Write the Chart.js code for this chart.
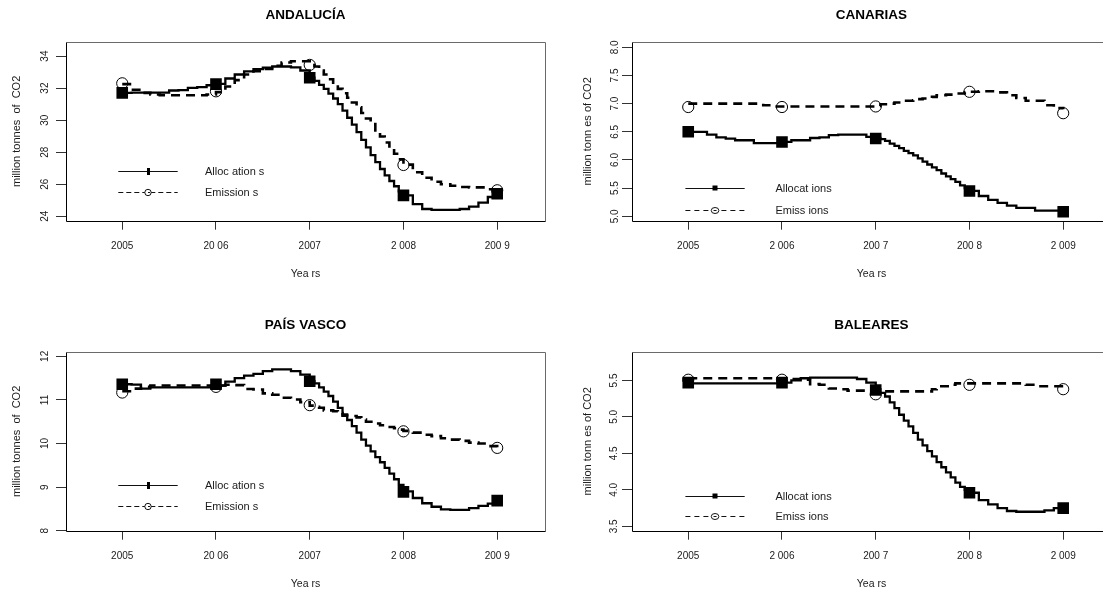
<!DOCTYPE html>
<html><head><meta charset="utf-8">
<script src="https://cdn.jsdelivr.net/npm/chart.js@4/dist/chart.umd.min.js"></script>
<style>
html,body{margin:0;padding:0;background:#fff;overflow:hidden;width:1103px;height:594px;position:relative}
canvas{position:absolute;display:block}
</style></head><body>
<canvas id="c0" width="567" height="284" style="left:0;top:0"></canvas>
<canvas id="c1" width="567" height="284" style="left:566px;top:0"></canvas>
<canvas id="c2" width="567" height="284" style="left:0;top:310px"></canvas>
<canvas id="c3" width="567" height="284" style="left:566px;top:310px"></canvas>
<script>
// ---------- data ----------
const years = [2005, 2006, 2007, 2008, 2009];
const curveYears = [
  2005.0,2005.1,2005.2,2005.3,2005.4,2005.5,2005.6,2005.7,2005.8,2005.9,
  2006.0,2006.1,2006.2,2006.3,2006.4,2006.5,2006.6,2006.7,2006.8,2006.9,
  2007.0,2007.05,2007.1,2007.15,2007.2,2007.25,2007.3,2007.35,2007.4,2007.45,2007.5,
  2007.55,2007.6,2007.65,2007.7,2007.75,2007.8,2007.85,2007.9,2007.95,2008.0,
  2008.1,2008.2,2008.3,2008.4,2008.5,2008.6,2008.7,2008.8,2008.9,2009.0
];
const xLabelsA = ["2005", "20 06", "2007", "2 008", "200 9"];
const xLabelsB = ["2005", "2 006", "200 7", "200 8", "2 009"];

// ANDALUCIA
const andAllocCurve = [31.70,31.72,31.72,31.72,31.72,31.85,31.88,32.02,32.06,32.18,
  32.27,32.60,32.85,33.05,33.18,33.28,33.35,33.35,33.30,33.10,
  32.65,32.45,32.20,31.95,31.65,31.35,31.00,30.60,30.15,29.72,29.25,
  28.77,28.30,27.82,27.38,26.95,26.55,26.20,25.87,25.55,25.30,
  24.75,24.45,24.40,24.40,24.40,24.45,24.60,24.85,25.20,25.40];
const andEmisCurve = [32.25,31.90,31.70,31.60,31.55,31.55,31.55,31.55,31.55,31.60,
  31.75,32.10,32.50,32.85,33.05,33.20,33.40,33.60,33.68,33.68,
  33.55,33.35,33.10,32.85,32.55,32.25,31.95,31.68,31.40,31.10,30.80,
  30.45,30.10,29.75,29.35,28.98,28.60,28.25,27.90,27.55,27.22,
  26.75,26.40,26.15,26.00,25.90,25.82,25.80,25.80,25.68,25.62];
const andAllocPts = [31.70, 32.25, 32.65, 25.30, 25.40];
const andEmisPts = [32.30, 31.80, 33.45, 27.20, 25.62];
const andYTicks = [24, 26, 28, 30, 32, 34];

// CANARIAS
const canAllocCurve = [6.50,6.50,6.45,6.40,6.38,6.35,6.35,6.30,6.30,6.30,
  6.32,6.35,6.35,6.39,6.40,6.44,6.45,6.45,6.45,6.41,
  6.39,6.37,6.34,6.29,6.25,6.21,6.16,6.12,6.08,6.03,5.97,
  5.92,5.87,5.82,5.76,5.71,5.66,5.61,5.55,5.50,5.45,
  5.36,5.29,5.24,5.19,5.15,5.15,5.10,5.10,5.10,5.09];
const canEmisCurve = [7.00,7.00,7.00,7.00,7.00,7.00,7.00,7.00,6.97,6.95,
  6.95,6.95,6.95,6.95,6.95,6.95,6.95,6.95,6.95,6.95,
  6.96,6.99,6.99,7.00,7.02,7.05,7.05,7.05,7.06,7.08,7.09,
  7.10,7.12,7.15,7.15,7.16,7.16,7.18,7.18,7.20,7.21,
  7.22,7.22,7.20,7.15,7.10,7.05,7.05,6.97,6.92,6.90];
const canAllocPts = [6.50, 6.32, 6.38, 5.45, 5.08];
const canEmisPts = [6.94, 6.94, 6.95, 7.21, 6.83];
const canYTicks = [5.0, 5.5, 6.0, 6.5, 7.0, 7.5, 8.0];

// PAIS VASCO
const pvAllocCurve = [11.36,11.35,11.26,11.29,11.29,11.29,11.29,11.29,11.29,11.29,
  11.33,11.42,11.50,11.56,11.60,11.66,11.70,11.70,11.66,11.58,
  11.43,11.38,11.29,11.19,11.09,10.96,10.82,10.67,10.54,10.40,10.25,
  10.09,9.95,9.82,9.69,9.57,9.44,9.31,9.18,9.05,8.90,
  8.75,8.63,8.55,8.49,8.48,8.48,8.52,8.57,8.62,8.67];
const pvEmisCurve = [11.20,11.26,11.30,11.33,11.33,11.33,11.33,11.33,11.33,11.33,
  11.33,11.35,11.34,11.25,11.24,11.15,11.12,11.05,11.01,10.95,
  10.87,10.84,10.82,10.76,10.76,10.74,10.70,10.64,10.63,10.63,10.60,
  10.55,10.50,10.50,10.46,10.42,10.38,10.38,10.35,10.32,10.29,
  10.25,10.20,10.17,10.12,10.09,10.06,10.02,10.00,9.94,9.90];
const pvAllocPts = [11.36, 11.36, 11.43, 8.89, 8.69];
const pvEmisPts = [11.17, 11.30, 10.88, 10.28, 9.90];
const pvYTicks = [8, 9, 10, 11, 12];

// BALEARES
const balAllocCurve = [5.46,5.46,5.46,5.46,5.46,5.46,5.46,5.46,5.46,5.46,
  5.47,5.50,5.53,5.54,5.54,5.54,5.54,5.54,5.52,5.47,
  5.38,5.33,5.28,5.20,5.12,5.03,4.95,4.87,4.78,4.69,4.61,
  4.53,4.46,4.38,4.31,4.24,4.17,4.10,4.04,4.00,3.96,
  3.86,3.80,3.75,3.71,3.70,3.70,3.70,3.72,3.75,3.75];
const balEmisCurve = [5.53,5.53,5.53,5.53,5.53,5.53,5.53,5.53,5.53,5.53,
  5.53,5.52,5.51,5.45,5.44,5.39,5.38,5.36,5.36,5.35,
  5.35,5.35,5.35,5.35,5.35,5.35,5.35,5.35,5.35,5.35,5.35,
  5.35,5.38,5.40,5.42,5.42,5.44,5.46,5.46,5.46,5.46,
  5.46,5.46,5.46,5.46,5.46,5.44,5.42,5.42,5.42,5.42];
const balAllocPts = [5.47, 5.47, 5.37, 3.96, 3.75];
const balEmisPts = [5.51, 5.51, 5.31, 5.44, 5.38];
const balYTicks = [3.5, 4.0, 4.5, 5.0, 5.5];

// ---------- drawing ----------
const FONT = '"Liberation Sans", Arial, Helvetica, sans-serif';
Chart.defaults.font.family = FONT;
Chart.defaults.color = '#1a1a1a';

const boxPlugin = {
  id: 'rbox',
  afterDraw(chart) {
    const {ctx, chartArea: a} = chart;
    const l = Math.round(a.left) + 0.5, r = Math.round(a.right) + 0.5;
    const t = Math.round(a.top) + 0.5, b = Math.round(a.bottom) + 0.5;
    ctx.save();
    ctx.lineWidth = 1;
    ctx.strokeStyle = '#6a6a6a';
    ctx.beginPath(); ctx.moveTo(l, t); ctx.lineTo(r, t); ctx.lineTo(r, b); ctx.stroke();
    ctx.strokeStyle = '#000';
    ctx.beginPath(); ctx.moveTo(l, t); ctx.lineTo(l, b); ctx.lineTo(r, b); ctx.stroke();
    ctx.restore();
  }
};

const rLegend = {
  id: 'rLegend',
  afterDatasetsDraw(chart, args, o) {
    if (!o || !o.items) return;
    const {ctx, chartArea: a} = chart;
    const x0 = a.left + o.x0, x1 = a.left + o.x1, xm = (x0 + x1) / 2;
    ctx.save();
    o.items.forEach((it, i) => {
      const y = Math.round(a.top + o.rows[i]) + 0.5;
      ctx.strokeStyle = '#111'; ctx.lineWidth = 1;
      ctx.setLineDash(it.dash || []);
      ctx.beginPath(); ctx.moveTo(x0, y); ctx.lineTo(x1, y); ctx.stroke();
      ctx.setLineDash([]);
      ctx.fillStyle = '#000';
      if (it.marker === 'bar') {
        ctx.fillRect(Math.round(xm) - 1, y - 3.5, 3, 7);
      } else if (it.marker === 'square') {
        ctx.fillRect(Math.round(xm) - 2.5, y - 3, 5, 5);
      } else if (it.marker === 'circle') {
        ctx.fillStyle = '#fff';
        ctx.beginPath(); ctx.arc(xm, y, 3.2, 0, Math.PI * 2); ctx.fill(); ctx.stroke();
        ctx.beginPath(); ctx.moveTo(xm, y); ctx.lineTo(xm + 2, y); ctx.stroke();
      } else if (it.marker === 'ellipse') {
        ctx.fillStyle = '#fff';
        ctx.beginPath(); ctx.ellipse(xm, y, 3.8, 3, 0, 0, Math.PI * 2); ctx.fill(); ctx.stroke();
        ctx.beginPath(); ctx.moveTo(xm - 1.5, y); ctx.lineTo(xm + 1.5, y); ctx.stroke();
      }
      ctx.fillStyle = '#1a1a1a';
      ctx.font = '11px ' + FONT;
      ctx.textBaseline = 'middle';
      ctx.textAlign = 'left';
      ctx.fillText(it.text, a.left + o.tx, y);
    });
    ctx.restore();
  }
};

function pts(xs, ys) { return xs.map((x, i) => ({x: x, y: ys[i]})); }

function makeChart(id, c) {
  new Chart(document.getElementById(id), {
    type: 'line',
    data: {
      datasets: [
        {label: 'Allocations', data: pts(curveYears, c.allocCurve), borderColor: '#000', borderWidth: 2.3,
          pointRadius: 0, stepped: true, fill: false, borderJoinStyle: 'miter'},
        {label: 'Emissions', data: pts(curveYears, c.emisCurve), borderColor: '#000', borderWidth: 2.6,
          borderDash: [9, 6], pointRadius: 0, stepped: true, fill: false, borderJoinStyle: 'miter'},
        {label: 'Allocations pts', data: pts(years, c.allocPts), showLine: false, pointStyle: 'rect',
          pointRadius: 8.2, pointBackgroundColor: '#000', pointBorderColor: '#000', pointBorderWidth: 0},
        {label: 'Emissions pts', data: pts(years, c.emisPts), showLine: false, pointStyle: 'circle',
          pointRadius: 5.6, pointBackgroundColor: 'rgba(0,0,0,0)', pointBorderColor: '#000', pointBorderWidth: 1}
      ]
    },
    options: {
      responsive: false, animation: false, devicePixelRatio: 1,
      layout: {padding: {left: 0, right: 22, top: 0, bottom: 0}},
      plugins: {
        legend: {display: false}, tooltip: {enabled: false},
        title: {display: true, text: c.title, fullSize: false, color: '#000',
          font: {family: FONT, size: 13.5, weight: 'bold'}, padding: {top: 7.6, bottom: 18.2}},
        rLegend: c.legend
      },
      scales: {
        x: {
          type: 'linear', min: 2004.4, max: 2009.51,
          afterBuildTicks: s => { s.ticks = years.map(v => ({value: v})); },
          afterFit: s => { s.height = 63.3; },
          ticks: {autoSkip: false, maxRotation: 0, padding: 11, color: '#1a1a1a',
            font: {size: 10}, callback: (v, i) => c.xLabels[i]},
          grid: {drawOnChartArea: false, drawTicks: true, tickLength: 9, color: '#333', lineWidth: 1},
          border: {display: false},
          title: {display: true, text: 'Yea rs', color: '#1a1a1a', font: {size: 10.5}, padding: {top: 0, bottom: 4}}
        },
        y: {
          type: 'linear', min: c.ymin, max: c.ymax,
          afterBuildTicks: s => { s.ticks = c.yTicks.map(v => ({value: v})); },
          afterFit: s => { s.width = 66; },
          ticks: {autoSkip: false, minRotation: 90, maxRotation: 90, crossAlign: 'center',
            padding: c.yPad, color: '#1a1a1a', font: {size: 10},
            callback: v => c.yDec ? Number(v).toFixed(1) : String(v)},
          grid: {drawOnChartArea: false, drawTicks: true, tickLength: 10, color: '#333', lineWidth: 1},
          border: {display: false},
          title: {display: true, text: c.yTitle, color: '#1a1a1a', font: {size: 11},
            padding: {top: c.yTitlePad, bottom: 0}}
        }
      }
    },
    plugins: [boxPlugin, rLegend]
  });
}

const legendA = (rows) => ({x0: 52.3, x1: 111.7, tx: 139, rows: rows, items: [
  {text: 'Alloc ation s', marker: 'bar'},
  {text: 'Emission s', marker: 'circle', dash: [5, 3]}
]});
const legendB = (rows) => ({x0: 53.4, x1: 112.7, tx: 143.4, rows: rows, items: [
  {text: 'Allocat ions', marker: 'square'},
  {text: 'Emiss ions', marker: 'ellipse', dash: [5, 4]}
]});

makeChart('c0', {title: 'ANDALUCÍA', allocCurve: andAllocCurve, emisCurve: andEmisCurve,
  allocPts: andAllocPts, emisPts: andEmisPts, yTicks: andYTicks, ymin: 23.72, ymax: 34.88, yDec: false,
  xLabels: xLabelsA, yTitle: 'million tonnes  of  CO2', yPad: 5.4, yTitlePad: 10.4, legend: legendA([129.3, 150])});
makeChart('c1', {title: 'CANARIAS', allocCurve: canAllocCurve, emisCurve: canEmisCurve,
  allocPts: canAllocPts, emisPts: canEmisPts, yTicks: canYTicks, ymin: 4.922, ymax: 8.094, yDec: true,
  xLabels: xLabelsB, yTitle: 'million tonn es of CO2', yPad: 0, yTitlePad: 14.9, legend: legendB([146, 167.7])});
makeChart('c2', {title: 'PAÍS VASCO', allocCurve: pvAllocCurve, emisCurve: pvEmisCurve,
  allocPts: pvAllocPts, emisPts: pvEmisPts, yTicks: pvYTicks, ymin: 8.0, ymax: 12.1, yDec: false,
  xLabels: xLabelsA, yTitle: 'million tonnes  of  CO2', yPad: 5.4, yTitlePad: 10.4, legend: legendA([132.7, 154.3])});
makeChart('c3', {title: 'BALEARES', allocCurve: balAllocCurve, emisCurve: balEmisCurve,
  allocPts: balAllocPts, emisPts: balEmisPts, yTicks: balYTicks, ymin: 3.44, ymax: 5.89, yDec: true,
  xLabels: xLabelsB, yTitle: 'million tonn es of CO2', yPad: 0.5, yTitlePad: 14.9, legend: legendB([144.3, 164.3])});
</script>
</body></html>
